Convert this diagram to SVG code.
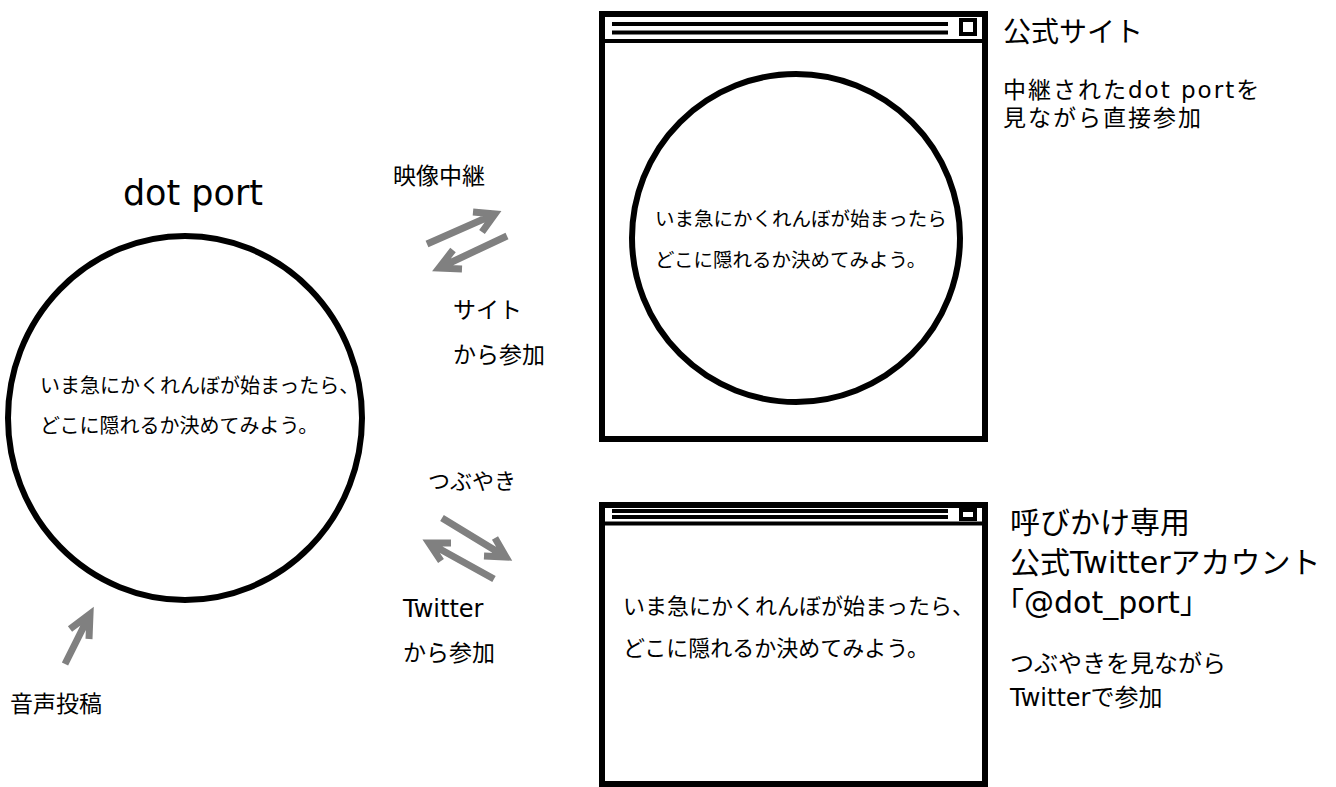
<svg xmlns="http://www.w3.org/2000/svg" width="1336" height="787" viewBox="0 0 1336 787">
<style>
.t{font-family:"DejaVu Sans","Noto Sans CJK JP",sans-serif;fill:#000}
.frame{fill:#fff;stroke:#000;stroke-width:6}
.bar{stroke:#000;stroke-width:4}
.ico{fill:#fff;stroke:#000;stroke-width:4}
.disc{fill:#fff;stroke:#000;stroke-width:6}
.arr{fill:none;stroke:#808080;stroke-width:7;stroke-linejoin:miter}
</style>
<rect width="1336" height="787" fill="#fff"/>

<g id="dotport">
<text class="t" x="193" y="205" font-size="35" text-anchor="middle">dot port</text>
<ellipse class="disc" cx="185" cy="418" rx="177" ry="182"/>
<text class="t" x="40" y="393" font-size="20">いま急にかくれんぼが始まったら、</text>
<text class="t" x="40" y="433" font-size="20">どこに隠れるか決めてみよう。</text>
</g>

<g id="site-window">
<rect class="frame" x="602" y="14" width="383" height="425"/>
<line class="bar" x1="602" y1="41" x2="985" y2="41"/>
<line class="bar" x1="612" y1="24" x2="948" y2="24"/>
<line class="bar" x1="612" y1="32.5" x2="948" y2="32.5"/>
<rect class="ico" x="961" y="20" width="14" height="14"/>
<circle class="disc" cx="796" cy="238" r="164"/>
<text class="t" x="655" y="226" font-size="19.5">いま急にかくれんぼが始まったら</text>
<text class="t" x="655" y="267" font-size="19.5">どこに隠れるか決めてみよう。</text>
</g>

<g id="site-label">
<text class="t" x="1003" y="42" font-size="28">公式サイト</text>
<text class="t" x="1003" y="98" font-size="23" letter-spacing="2">中継されたdot portを</text>
<text class="t" x="1003" y="126" font-size="23" letter-spacing="2">見ながら直接参加</text>
</g>

<g id="twitter-window">
<rect class="frame" x="602" y="505" width="383" height="279"/>
<line class="bar" x1="602" y1="523.5" x2="985" y2="523.5"/>
<line class="bar" x1="612" y1="511" x2="948" y2="511"/>
<line class="bar" x1="612" y1="517" x2="948" y2="517"/>
<rect class="ico" x="961" y="510" width="14" height="9"/>
<text class="t" x="623" y="614" font-size="22">いま急にかくれんぼが始まったら、</text>
<text class="t" x="623" y="656" font-size="22">どこに隠れるか決めてみよう。</text>
</g>

<g id="twitter-label">
<text class="t" x="1010" y="533" font-size="30">呼びかけ専用</text>
<text class="t" x="1010" y="573" font-size="30">公式Twitterアカウント</text>
<text class="t" x="994" y="613" font-size="30">「@dot_port」</text>
<text class="t" x="1010" y="672" font-size="24">つぶやきを見ながら</text>
<text class="t" x="1010" y="706" font-size="24">Twitterで参加</text>
</g>

<g id="connectors">
<path class="arr" d="M427,244 L495,214 M473,212 L495,214 L482,232"/>
<path class="arr" d="M507,236 L439,268 M453,250 L439,268 L462,269"/>
<path class="arr" d="M442,518 L506,557 M495,538 L506,557 L484,556"/>
<path class="arr" d="M494,579 L429,543 M451,543 L429,543 L441,561"/>
<path class="arr" d="M65,664 L90,614 M70,629 L90,614 L89,639"/>
</g>

<g id="labels">
<text class="t" x="393" y="184" font-size="23">映像中継</text>
<text class="t" x="453" y="318" font-size="23">サイト</text>
<text class="t" x="453" y="363" font-size="23">から参加</text>
<text class="t" x="428" y="489" font-size="22">つぶやき</text>
<text class="t" x="403" y="617" font-size="24">Twitter</text>
<text class="t" x="403" y="661" font-size="23">から参加</text>
<text class="t" x="10" y="712" font-size="23">音声投稿</text>
</g>
</svg>
